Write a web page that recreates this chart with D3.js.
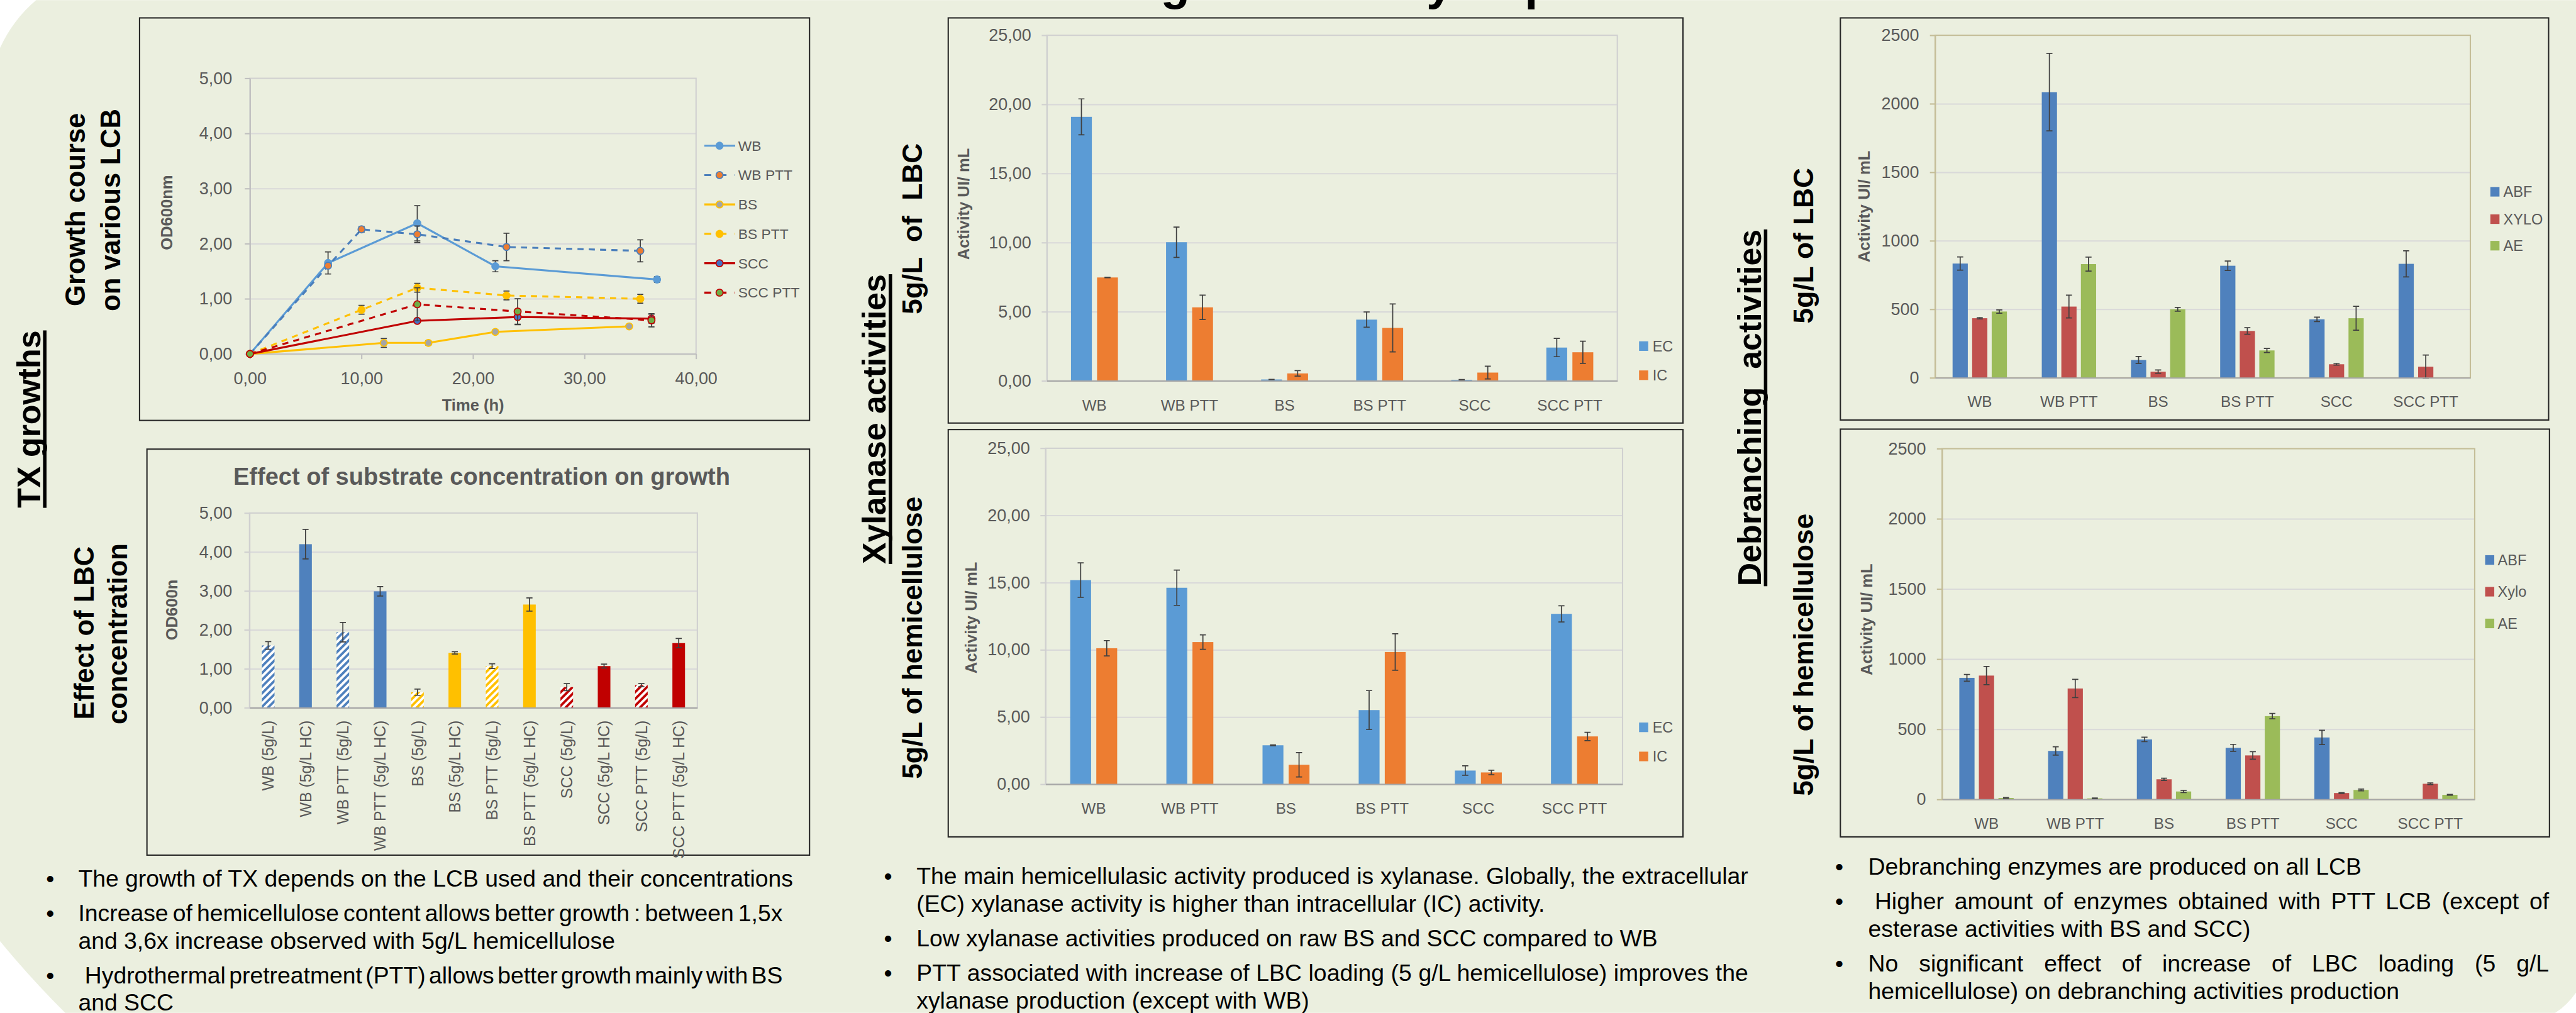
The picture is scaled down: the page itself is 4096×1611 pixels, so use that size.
<!doctype html>
<html lang="en">
<head>
<meta charset="UTF-8">
<title>TX growth and hemicellulolytic activities</title>
<script src="https://cdnjs.cloudflare.com/ajax/libs/d3/7.8.5/d3.min.js"></script>
<style>
  html, body { margin: 0; padding: 0; background: #fff; }
  svg { display: block; }
</style>
</head>
<body>
<script>
// ---------- data ----------
// growth course (OD600nm vs time in h)
var lineNames = ['WB', 'WB PTT', 'BS', 'BS PTT', 'SCC', 'SCC PTT'];
var wbTime = [0, 7, 15, 22, 36.5];
var wbOD = [0, 1.65, 2.37, 1.59, 1.35];
var wbSD = [0, 0.20, 0.32, 0.10, 0.05];
var wbPttTime = [0, 7, 10, 15, 23, 35];
var wbPttOD = [0, 1.60, 2.26, 2.17, 1.94, 1.87];
var wbPttSD = [0, 0, 0.05, 0.15, 0.25, 0.20];
var bsTime = [0, 12, 16, 22, 34];
var bsOD = [0, 0.20, 0.20, 0.40, 0.50];
var bsSD = [0, 0.08, 0.04, 0.03, 0.03];
var bsPttTime = [0, 10, 15, 23, 35];
var bsPttOD = [0, 0.80, 1.20, 1.06, 1.00];
var bsPttSD = [0, 0.08, 0.08, 0.08, 0.08];
var sccTime = [0, 15, 24, 36];
var sccOD = [0, 0.60, 0.67, 0.64];
var sccSD = [0, 0.03, 0.14, 0.08];
var sccPttTime = [0, 15, 24, 36];
var sccPttOD = [0, 0.90, 0.77, 0.61];
var sccPttSD = [0, 0.30, 0.23, 0.12];

// effect of substrate concentration
var concCats = ['WB (5g/L)', 'WB (5g/L HC)', 'WB PTT (5g/L)', 'WB PTT (5g/L HC)',
                'BS (5g/L)', 'BS (5g/L HC)', 'BS PTT (5g/L)', 'BS PTT (5g/L HC)',
                'SCC (5g/L)', 'SCC (5g/L HC)', 'SCC PTT (5g/L)', 'SCC PTT (5g/L HC)'];
var concOD = [1.60, 4.20, 1.94, 2.99, 0.40, 1.41, 1.07, 2.65, 0.53, 1.07, 0.58, 1.66];
var concSD = [0.10, 0.38, 0.25, 0.12, 0.08, 0.03, 0.06, 0.17, 0.09, 0.05, 0.04, 0.12];

// xylanase activities
var lcbCats = ['WB', 'WB PTT', 'BS', 'BS PTT', 'SCC', 'SCC PTT'];
var xylLbcEC = [19.10, 10.03, 0.10, 4.43, 0.08, 2.41];
var xylLbcECsd = [1.30, 1.10, 0.01, 0.55, 0.01, 0.66];
var xylLbcIC = [7.48, 5.32, 0.54, 3.83, 0.60, 2.07];
var xylLbcICsd = [0.02, 0.88, 0.20, 1.73, 0.46, 0.80];
var xylHcEC = [15.19, 14.62, 2.90, 5.52, 1.02, 12.68];
var xylHcECsd = [1.28, 1.31, 0.03, 1.45, 0.35, 0.60];
var xylHcIC = [10.12, 10.58, 1.45, 9.84, 0.88, 3.56];
var xylHcICsd = [0.57, 0.54, 0.91, 1.36, 0.17, 0.31];

// debranching activities
var debLbcABF = [834, 2085, 130, 818, 427, 832];
var debLbcABFsd = [48, 283, 26, 34, 16, 95];
var debLbcXYLO = [435, 520, 45, 342, 99, 81];
var debLbcXYLOsd = [5, 83, 12, 24, 6, 85];
var debLbcAE = [484, 830, 500, 200, 435, 0];
var debLbcAEsd = [12, 51, 14, 15, 87, 0];
var debHcABF = [867, 346, 428, 368, 442, 0];
var debHcABFsd = [24, 30, 16, 25, 51, 0];
var debHcXylo = [883, 791, 144, 314, 46, 112];
var debHcXylosd = [65, 65, 8, 27, 3, 6];
var debHcAE = [11, 8, 57, 594, 68, 33];
var debHcAEsd = [3, 2, 8, 19, 6, 3];

// text
var growthNotes = [
  ['The growth of TX depends on the LCB used and their concentrations'],
  ['Increase of hemicellulose content allows better growth : between 1,5x',
   'and 3,6x increase observed with 5g/L hemicellulose'],
  [' Hydrothermal pretreatment (PTT) allows better growth mainly with BS',
   'and SCC']
];
var xylNotes = [
  ['The main hemicellulasic activity produced is xylanase. Globally, the  extracellular',
   '(EC) xylanase activity is higher than intracellular  (IC) activity.'],
  ['Low xylanase activities produced on raw BS and SCC compared to WB'],
  ['PTT associated with increase of LBC loading (5 g/L hemicellulose) improves the',
   'xylanase production (except with WB)']
];
var debNotes = [
  ['Debranching enzymes are produced on all LCB'],
  [' Higher amount of enzymes obtained with  PTT LCB (except of',
   'esterase activities with BS and SCC)'],
  ['No significant effect of increase of LBC loading (5 g/L',
   'hemicellulose) on debranching activities production']
];

// ---------- drawing ----------
var FONT = '"Liberation Sans", Arial, sans-serif';
var GREY = '#595959';
var GRID = '#d9d9d9';
var comma = function(d) { return d3.format('.2f')(d).replace('.', ','); };

var svg = d3.select('body').append('svg')
  .attr('width', 4096).attr('height', 1611)
  .attr('viewBox', '0 0 5925 2330')
  .attr('font-family', FONT);

svg.append('rect').attr('width', 5925).attr('height', 2330).attr('fill', '#fff');
svg.append('path')
  .attr('d', 'M83,0 L5925,0 L5925,2283 Q5905,2312 5877,2330 L150,2330 Q70,2250 0,2165 L0,110 Q30,45 83,0 Z')
  .attr('fill', '#ebefdf');

var defs = svg.append('defs');
var subColor = { WB: '#4f81bd', BS: '#ffc000', SCC: '#c00000' };
Object.keys(subColor).forEach(function(k) {
  var p = defs.append('pattern').attr('id', 'hatch-' + k)
    .attr('patternUnits', 'userSpaceOnUse').attr('width', 11).attr('height', 11)
    .attr('patternTransform', 'rotate(45)');
  p.append('rect').attr('width', 11).attr('height', 11).attr('fill', '#fff');
  p.append('rect').attr('width', 5.5).attr('height', 11).attr('fill', subColor[k]);
});

function label(x, y, str, size, o) {
  o = o || {};
  return svg.append('text').attr('x', x).attr('y', y).attr('font-size', size)
    .attr('font-weight', o.bold ? 'bold' : null).attr('fill', o.fill || '#000')
    .attr('text-anchor', o.anchor || 'start').text(str);
}
function vlabel(x, y, str, size, o) {
  o = o || {};
  return svg.append('text').attr('transform', 'translate(' + x + ',' + y + ') rotate(-90)')
    .attr('font-size', size).attr('font-weight', o.bold ? 'bold' : null)
    .attr('fill', o.fill || '#000').attr('text-anchor', 'middle')
    .style('white-space', 'pre').text(str);
}
function sectionTitle(x, y, str) {
  var t = vlabel(x, y, str, 75, { bold: true });
  var len = t.node().getComputedTextLength();
  svg.append('rect').attr('x', x + 7).attr('y', y - len / 2)
    .attr('width', 8).attr('height', len).attr('fill', '#000');
}
function box(x0, y0, x1, y1) {
  svg.append('rect').attr('x', x0).attr('y', y0).attr('width', x1 - x0).attr('height', y1 - y0)
    .attr('fill', 'none').attr('stroke', '#262626').attr('stroke-width', 3);
}
function styleAxis(s, color) {
  s.attr('font-family', FONT).attr('font-size', 39);
  s.select('.domain').attr('stroke', color).attr('stroke-width', 3);
  s.selectAll('.tick line').attr('stroke', color).attr('stroke-width', 3);
  s.selectAll('.tick text').attr('fill', GREY);
}
function errorBar(g, cx, yHi, yLo) {
  g.append('path')
    .attr('d', 'M' + cx + ',' + yHi + 'V' + yLo + 'M' + (cx - 7) + ',' + yHi + 'h14M' + (cx - 7) + ',' + yLo + 'h14')
    .attr('stroke', '#404040').attr('stroke-width', 2.5).attr('fill', 'none');
}

// ---- heading (only its descenders show at the top edge) ----
label(2205, -2, 'Screening the activity of production', 110, { bold: true });

// ---- panel boxes ----
box(321, 41, 1862, 967);
box(338, 1033, 1862, 1967);
box(2181, 41, 3871, 973);
box(2181, 988, 3871, 1925);
box(4233, 41, 5862, 966);
box(4233, 987, 5864, 1925);

// ---- section titles ----
sectionTitle(92, 964, 'TX growths');
sectionTitle(2037, 964, 'Xylanase activities');
sectionTitle(4050, 938, 'Debranching  activities');

vlabel(195, 482, 'Growth course', 63, { bold: true });
vlabel(276, 483, 'on various LCB', 63, { bold: true });
vlabel(215, 1456, 'Effect of LBC', 63, { bold: true });
vlabel(292, 1458, 'concentration', 63, { bold: true });
vlabel(2120, 526, '5g/L  of  LBC', 64, { bold: true });
vlabel(2120, 1467, '5g/L of hemicellulose', 64, { bold: true });
vlabel(4170, 565, '5g/L of LBC', 64, { bold: true });
vlabel(4170, 1506, '5g/L of hemicellulose', 64, { bold: true });

// ---- growth course line chart ----
(function() {
  var px0 = 575, px1 = 1601, py0 = 180, py1 = 814;
  var x = d3.scaleLinear().domain([0, 40]).range([px0, px1]);
  var y = d3.scaleLinear().domain([0, 5]).range([py1, py0]);
  var g = svg.append('g');

  g.append('g').attr('transform', 'translate(' + px0 + ',0)')
    .call(d3.axisLeft(y).tickValues([1, 2, 3, 4]).tickSize(-(px1 - px0)).tickFormat(''))
    .call(function(s) { s.select('.domain').remove(); })
    .selectAll('line').attr('stroke', GRID).attr('stroke-width', 3);
  g.append('rect').attr('x', px0).attr('y', py0).attr('width', px1 - px0).attr('height', py1 - py0)
    .attr('fill', 'none').attr('stroke', '#d0d0d0').attr('stroke-width', 3);
  g.append('g').attr('transform', 'translate(' + px0 + ',0)')
    .call(d3.axisLeft(y).ticks(5).tickSize(12).tickSizeOuter(0).tickPadding(29).tickFormat(comma))
    .call(styleAxis, '#bfbfbf');
  g.append('g').attr('transform', 'translate(0,' + py1 + ')')
    .call(d3.axisBottom(x).tickValues([0, 10, 20, 30, 40]).tickSize(12).tickSizeOuter(0).tickPadding(30).tickFormat(comma))
    .call(styleAxis, '#bfbfbf');

  label((px0 + px1) / 2, 944, 'Time (h)', 37, { bold: true, fill: GREY, anchor: 'middle' });
  vlabel(396, 489, 'OD600nm', 37, { bold: true, fill: GREY });

  var series = [
    { t: wbTime, v: wbOD, sd: wbSD, stroke: '#5b9bd5', dash: null, fill: '#5b9bd5' },
    { t: wbPttTime, v: wbPttOD, sd: wbPttSD, stroke: '#4a7ebb', dash: '14,12', fill: '#ed7d31' },
    { t: bsTime, v: bsOD, sd: bsSD, stroke: '#ffc000', dash: null, fill: '#a5a5a5' },
    { t: bsPttTime, v: bsPttOD, sd: bsPttSD, stroke: '#ffc000', dash: '14,12', fill: '#ffc000' },
    { t: sccTime, v: sccOD, sd: sccSD, stroke: '#c00000', dash: null, fill: '#4472c4' },
    { t: sccPttTime, v: sccPttOD, sd: sccPttSD, stroke: '#c00000', dash: '14,12', fill: '#70ad47' }
  ];
  var line = d3.line().x(function(d) { return x(d.t); }).y(function(d) { return y(d.v); });

  series.forEach(function(s, k) {
    var pts = s.t.map(function(t, i) { return { t: t, v: s.v[i], sd: s.sd[i] }; });
    g.append('path').datum(pts).attr('d', line).attr('fill', 'none')
      .attr('stroke', s.stroke).attr('stroke-width', 4.5).attr('stroke-dasharray', s.dash);
    pts.forEach(function(p) {
      if (p.sd > 0) errorBar(g, x(p.t), y(p.v + p.sd), y(p.v - p.sd));
    });
    g.append('g').selectAll('circle').data(pts).join('circle')
      .attr('cx', function(d) { return x(d.t); }).attr('cy', function(d) { return y(d.v); })
      .attr('r', 8).attr('fill', s.fill).attr('stroke', s.stroke).attr('stroke-width', 2.5);

    // legend
    var ly = 335 + k * 67.6;
    g.append('line').attr('x1', 1620).attr('x2', 1691).attr('y1', ly).attr('y2', ly)
      .attr('stroke', s.stroke).attr('stroke-width', 4.5).attr('stroke-dasharray', s.dash ? '16,19' : null);
    g.append('circle').attr('cx', 1655).attr('cy', ly).attr('r', 8)
      .attr('fill', s.fill).attr('stroke', s.stroke).attr('stroke-width', 2.5);
    g.append('text').attr('x', 1698).attr('y', ly).attr('dy', '0.35em')
      .attr('font-size', 33).attr('fill', GREY).text(lineNames[k]);
  });
})();

// ---- generic bar chart ----
function barChart(c) {
  var x = d3.scaleBand().domain(c.cats).range([c.px0, c.px1]);
  var y = d3.scaleLinear().domain([0, c.max]).range([c.py1, c.py0]);
  var g = svg.append('g');
  var frame = c.frame || '#d0d0d0';

  g.append('g').attr('transform', 'translate(' + c.px0 + ',0)')
    .call(d3.axisLeft(y).tickValues(d3.range(c.step, c.max, c.step)).tickSize(-(c.px1 - c.px0)).tickFormat(''))
    .call(function(s) { s.select('.domain').remove(); })
    .selectAll('line').attr('stroke', GRID).attr('stroke-width', 3);
  g.append('rect').attr('x', c.px0).attr('y', c.py0).attr('width', c.px1 - c.px0).attr('height', c.py1 - c.py0)
    .attr('fill', 'none').attr('stroke', frame).attr('stroke-width', 3);

  var n = c.series.length;
  var groupW = n * c.barW + (n - 1) * c.gap;
  c.series.forEach(function(s, k) {
    var off = x.bandwidth() / 2 - groupW / 2 + k * (c.barW + c.gap);
    g.append('g').selectAll('rect').data(s.vals).join('rect')
      .attr('x', function(d, i) { return x(c.cats[i]) + off; })
      .attr('width', c.barW)
      .attr('y', function(d) { return y(d); })
      .attr('height', function(d) { return c.py1 - y(d); })
      .attr('fill', function(d, i) { return typeof s.fill === 'function' ? s.fill(i) : s.fill; });
  });
  c.series.forEach(function(s, k) {
    var off = x.bandwidth() / 2 - groupW / 2 + k * (c.barW + c.gap) + c.barW / 2;
    s.vals.forEach(function(v, i) {
      if (v > 0 && s.sd[i] > 0) errorBar(g, x(c.cats[i]) + off, y(v + s.sd[i]), y(v - s.sd[i]));
    });
  });

  g.append('g').attr('transform', 'translate(' + c.px0 + ',0)')
    .call(d3.axisLeft(y).tickValues(d3.range(0, c.max + c.step / 2, c.step)).tickSize(12).tickSizeOuter(0)
      .tickPadding(c.tickPad).tickFormat(c.fmt))
    .call(styleAxis, frame);
  var xa = g.append('g').attr('transform', 'translate(0,' + c.py1 + ')')
    .call(d3.axisBottom(x).tickSize(0).tickSizeOuter(0).tickPadding(c.catPad))
    .call(styleAxis, '#a6a6a6');
  xa.selectAll('.tick text').attr('font-size', c.catSize || 35);
  if (c.rotate) {
    xa.selectAll('.tick text').attr('transform', 'rotate(-90)').attr('text-anchor', 'end')
      .attr('x', -c.catPad).attr('y', 0).attr('dy', '0.35em');
  }

  if (c.legend) {
    c.series.forEach(function(s, k) {
      var ly = c.legend.ys[k];
      g.append('rect').attr('x', c.legend.x).attr('y', ly - 11).attr('width', 21).attr('height', 22).attr('fill', s.fill);
      g.append('text').attr('x', c.legend.tx).attr('y', ly).attr('dy', '0.35em')
        .attr('font-size', 34).attr('fill', GREY).text(s.name);
    });
  }
  if (c.ytitle) vlabel(c.ytitle[0], c.ytitle[1], c.ytitle[2], 37, { bold: true, fill: GREY });
  return g;
}

// ---- effect of substrate concentration ----
label(1108, 1115, 'Effect of substrate concentration on growth', 55, { bold: true, fill: GREY, anchor: 'middle' });
barChart({
  px0: 574, px1: 1604, py0: 1180, py1: 1628, max: 5, step: 1, fmt: comma, tickPad: 28,
  cats: concCats, barW: 29, gap: 0, catPad: 29, catSize: 36, rotate: true,
  series: [{ vals: concOD, sd: concSD, fill: function(i) {
    var sub = concCats[i].split(' ')[0];
    return concCats[i].indexOf('HC') >= 0 ? subColor[sub] : 'url(#hatch-' + sub + ')';
  } }],
  ytitle: [408, 1403, 'OD600n']
});

// ---- xylanase ----
barChart({
  px0: 2408, px1: 3720, py0: 81, py1: 876, max: 25, step: 5, fmt: comma, tickPad: 24,
  cats: lcbCats, barW: 48, gap: 12, catPad: 43,
  series: [{ name: 'EC', vals: xylLbcEC, sd: xylLbcECsd, fill: '#5b9bd5' },
           { name: 'IC', vals: xylLbcIC, sd: xylLbcICsd, fill: '#ed7d31' }],
  legend: { x: 3770, tx: 3801, ys: [796, 863] },
  ytitle: [2229, 469, 'Activity UI/ mL']
});
barChart({
  px0: 2405, px1: 3732, py0: 1031, py1: 1804, max: 25, step: 5, fmt: comma, tickPad: 24,
  cats: lcbCats, barW: 48, gap: 12, catPad: 43,
  series: [{ name: 'EC', vals: xylHcEC, sd: xylHcECsd, fill: '#5b9bd5' },
           { name: 'IC', vals: xylHcIC, sd: xylHcICsd, fill: '#ed7d31' }],
  legend: { x: 3770, tx: 3801, ys: [1673, 1740] },
  ytitle: [2246, 1421, 'Activity UI/ mL']
});

// ---- debranching ----
barChart({
  px0: 4451, px1: 5682, py0: 81, py1: 869, max: 2500, step: 500, fmt: d3.format('d'), tickPad: 25,
  cats: lcbCats, barW: 35, gap: 10, catPad: 42, frame: '#c4bd97',
  series: [{ name: 'ABF', vals: debLbcABF, sd: debLbcABFsd, fill: '#4f81bd' },
           { name: 'XYLO', vals: debLbcXYLO, sd: debLbcXYLOsd, fill: '#c0504d' },
           { name: 'AE', vals: debLbcAE, sd: debLbcAEsd, fill: '#9bbb59' }],
  legend: { x: 5728, tx: 5758, ys: [441, 504, 565] },
  ytitle: [4301, 475, 'Activity UI/ mL']
});
barChart({
  px0: 4467, px1: 5692, py0: 1032, py1: 1839, max: 2500, step: 500, fmt: d3.format('d'), tickPad: 25,
  cats: lcbCats, barW: 35, gap: 10, catPad: 43, frame: '#c4bd97',
  series: [{ name: 'ABF', vals: debHcABF, sd: debHcABFsd, fill: '#4f81bd' },
           { name: 'Xylo', vals: debHcXylo, sd: debHcXylosd, fill: '#c0504d' },
           { name: 'AE', vals: debHcAE, sd: debHcAEsd, fill: '#9bbb59' }],
  legend: { x: 5716, tx: 5745, ys: [1288, 1361, 1434] },
  ytitle: [4307, 1425, 'Activity UI/ mL']
});

// ---- bullet notes ----
function notes(tx, bx, y0, right, paras) {
  var y = y0;
  paras.forEach(function(lines, p) {
    if (p > 0) y += 80;
    lines.forEach(function(str, j) {
      if (j > 0) y += 63;
      if (j === 0) label(bx, y, '\u2022', 54);
      var lead = str.charAt(0) === ' ' ? 15 : 0;
      var words = str.trim().split(/\s+/);
      var t = label(tx + lead, y, words.join(' '), 54);
      if (j < lines.length - 1 && words.length > 1) {
        var w = t.node().getComputedTextLength();
        t.attr('word-spacing', (right - tx - lead - w) / (words.length - 1));
      }
    });
  });
}
notes(180, 106, 2039, 1800, growthNotes);
notes(2108, 2033, 2034, 4021, xylNotes);
notes(4297, 4221, 2012, 5863, debNotes);
</script>
</body>
</html>
